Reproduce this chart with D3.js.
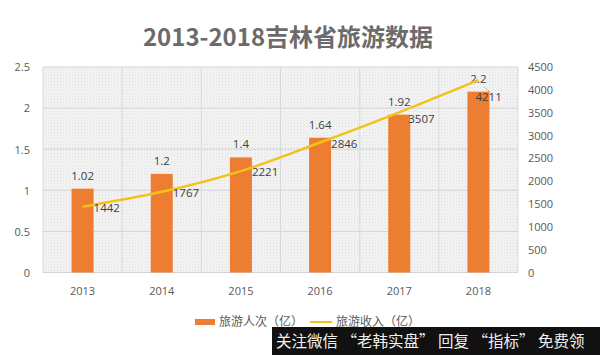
<!DOCTYPE html>
<html><head><meta charset="utf-8">
<script src="https://cdn.jsdelivr.net/npm/d3@7"></script>
<style>body{margin:0;background:#fff;}svg{display:block;}</style>
</head><body>
<script>
const title = "2013-2018吉林省旅游数据";
const years = ["2013","2014","2015","2016","2017","2018"];
const visits = [1.02, 1.2, 1.4, 1.64, 1.92, 2.2];
const income = [1442, 1767, 2221, 2846, 3507, 4211];
const leftTicks = [0, 0.5, 1, 1.5, 2, 2.5];
const rightTicks = [0, 500, 1000, 1500, 2000, 2500, 3000, 3500, 4000, 4500];
const legendLabels = ["旅游人次（亿）", "旅游收入（亿）"];
const watermark = "关注微信 “老韩实盘” 回复 “指标” 免费领";

const W = 600, H = 355;
const m = {left: 43, right: 82, top: 67, bottom: 82.5};
const svg = d3.select("body").append("svg").attr("width", W).attr("height", H);
const font = "'Open Sans','Noto Sans CJK SC',sans-serif";
const grey = "#595959";

const x = d3.scaleBand().domain(years).range([m.left, W - m.right]).padding(0);
const yL = d3.scaleLinear().domain([0, 2.5]).range([H - m.bottom, m.top]);
const yR = d3.scaleLinear().domain([0, 4500]).range([H - m.bottom, m.top]);

// pattern background
const defs = svg.append("defs");
const pat = defs.append("pattern").attr("id","hatch").attr("width",3).attr("height",3)
  .attr("patternUnits","userSpaceOnUse");
pat.append("rect").attr("width",3).attr("height",3).attr("fill","#f4f4f4");
pat.append("rect").attr("width",1).attr("height",1).attr("fill","#dedede");
pat.append("rect").attr("x",1.5).attr("y",1.5).attr("width",1).attr("height",1).attr("fill","#e6e6e6");

svg.append("rect").attr("x", m.left).attr("y", m.top)
  .attr("width", W - m.right - m.left).attr("height", H - m.bottom - m.top)
  .attr("fill", "url(#hatch)");

// horizontal gridlines
svg.append("g").selectAll("line").data(leftTicks).join("line")
  .attr("x1", m.left).attr("x2", W - m.right)
  .attr("y1", d => yL(d)).attr("y2", d => yL(d))
  .attr("stroke", "#d4d4d4").attr("stroke-width", 1);
// vertical gridlines
svg.append("g").selectAll("line").data(years.concat(["end"])).join("line")
  .attr("x1", (d,i) => m.left + i * x.step()).attr("x2", (d,i) => m.left + i * x.step())
  .attr("y1", m.top).attr("y2", H - m.bottom)
  .attr("stroke", "#d9d9d9").attr("stroke-width", 1);

// title
svg.append("text").attr("x", 288).attr("y", 46).attr("text-anchor","middle")
  .attr("font-family","'Noto Sans CJK SC',sans-serif").attr("font-weight","bold")
  .attr("font-size", 24).attr("fill", "#6b6b6b").text(title);

// axes
const axL = svg.append("g").attr("transform", `translate(${m.left - 10},0)`)
  .call(d3.axisLeft(yL).tickValues(leftTicks).tickSize(0).tickFormat(d3.format("~g")));
const axR = svg.append("g").attr("transform", `translate(${W - m.right + 7},0)`)
  .call(d3.axisRight(yR).tickValues(rightTicks).tickSize(0).tickFormat(d3.format("d")));
const axB = svg.append("g").attr("transform", `translate(0,${H - m.bottom + 12})`)
  .call(d3.axisBottom(x).tickSize(0));
[axL, axR, axB].forEach(a => {
  a.select(".domain").remove();
  a.selectAll("text").attr("font-family", font).attr("font-size", 11).attr("fill", grey);
});
axL.selectAll("text").attr("dy","0.35em");

// bars
const bw = 22;
const cx = d => x(d) + x.bandwidth() / 2;
svg.append("g").selectAll("rect").data(years).join("rect")
  .attr("x", d => cx(d) - bw/2).attr("width", bw)
  .attr("y", (d,i) => yL(visits[i])).attr("height", (d,i) => yL(0) - yL(visits[i]))
  .attr("fill", "#ED7D31");

// bar labels
svg.append("g").selectAll("text").data(years).join("text")
  .attr("x", d => cx(d)).attr("y", (d,i) => yL(visits[i]) - 9)
  .attr("text-anchor","middle").attr("font-family", font).attr("font-size", 11.5)
  .attr("fill", "#404040").text((d,i) => visits[i]);

// line
const line = d3.line().x((d,i) => cx(years[i])).y(d => yR(d)).curve(d3.curveCatmullRom.alpha(0.5));
svg.append("path").datum(income).attr("d", line)
  .attr("fill","none").attr("stroke","#F2C21B").attr("stroke-width", 2.5);

// line labels
const labOff = (i) => i === 5 ? [-3, 17] : (i === 4 ? [9, 7] : [11, 1]);
svg.append("g").selectAll("text").data(income).join("text")
  .attr("x", (d,i) => cx(years[i]) + labOff(i)[0])
  .attr("y", (d,i) => yR(d) + labOff(i)[1]).attr("dy","0.35em")
  .attr("font-family", font).attr("font-size", 11.5).attr("fill", "#404040").text(d => d);
// leader line for last label
svg.append("line")
  .attr("x1", cx(years[5]) + 6).attr("y1", yR(income[5]) + 7)
  .attr("x2", cx(years[5]) + 12).attr("y2", yR(income[5]) + 12)
  .attr("stroke", "#a6a6a6").attr("stroke-width", 0.8);

// legend
const lg = svg.append("g").attr("transform", "translate(0,322)");
lg.append("rect").attr("x", 195).attr("y", -3).attr("width", 20).attr("height", 6).attr("fill", "#ED7D31");
lg.append("text").attr("x", 219).attr("y", 0).attr("dy","0.35em")
  .attr("font-family","'Noto Sans CJK SC',sans-serif").attr("font-size", 12).attr("fill", grey).text(legendLabels[0]);
lg.append("line").attr("x1", 310).attr("x2", 332).attr("y1", 0).attr("y2", 0)
  .attr("stroke", "#F2C21B").attr("stroke-width", 2);
lg.append("text").attr("x", 336).attr("y", 0).attr("dy","0.35em")
  .attr("font-family","'Noto Sans CJK SC',sans-serif").attr("font-size", 12).attr("fill", grey).text(legendLabels[1]);

// watermark
svg.append("rect").attr("x", 272).attr("y", 327).attr("width", 328).attr("height", 28).attr("fill", "#111");
svg.append("text").attr("x", 276).attr("y", 342).attr("dy","0.35em")
  .attr("font-family","'Noto Sans CJK SC',sans-serif").attr("font-size", 15.5).attr("fill", "#f0f0f0")
  .text(watermark);
</script>
</body></html>
